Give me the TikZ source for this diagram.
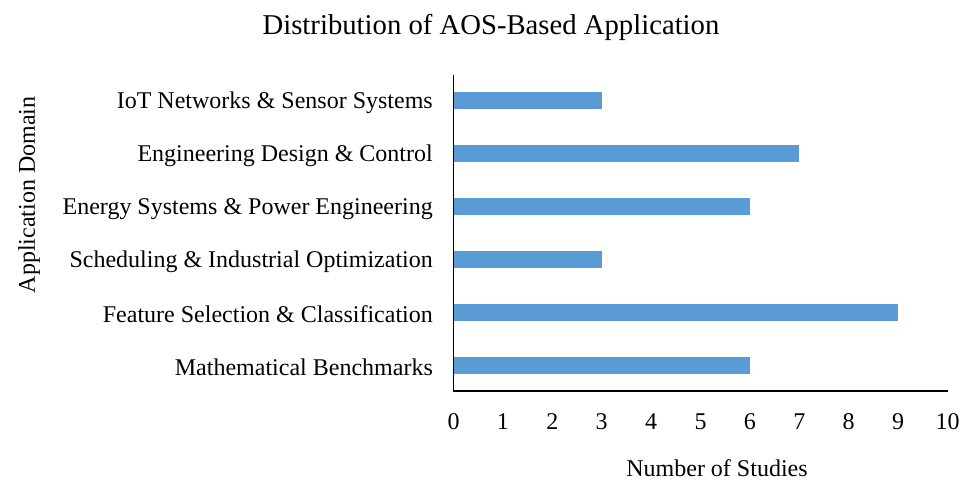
\documentclass[tikz,border=0pt]{standalone}
\usepackage{fontspec}
\setmainfont{Liberation Serif}
\definecolor{barblue}{HTML}{5B9BD5}
\begin{document}
\begin{tikzpicture}[x=1pt,y=-1pt,
  bar/.style={fill=barblue,draw=none},
  axisline/.style={line width=1.5pt,black},
  cat/.style={anchor=east,font=\fontsize{24}{26}\selectfont,inner sep=0pt},
  tick/.style={anchor=center,font=\fontsize{24}{26}\selectfont,inner sep=0pt},
  ttl/.style={anchor=center,font=\fontsize{28.7}{32}\selectfont,inner sep=0pt},
  axttl/.style={anchor=center,font=\fontsize{24}{26}\selectfont,inner sep=0pt}]
\useasboundingbox (0,0) rectangle (961,481);
\def\ux{49.4}
\def\xo{453.5}
% bars
\foreach \v/\yc/\nm in {3/101/b1,7/154/b2,6/207/b3,3/259.5/b4,9/312.5/b5,6/365/b6}{
  \fill[bar] (\xo,\yc-8.5) rectangle ({\xo+\v*\ux},\yc+8.5);
}
% axes
\coordinate (o) at (\xo,391);
\coordinate (top) at (\xo,75);
\coordinate (xend) at (948,391);
\draw[axisline] (top) -- (o) -- (xend);
% category labels
\node[cat] (c1) at (433,103) {IoT Networks \& Sensor Systems};
\node[cat] (c2) at (433,156) {Engineering Design \& Control};
\node[cat] (c3) at (433,209) {Energy Systems \& Power Engineering};
\node[cat] (c4) at (433,261.5) {Scheduling \& Industrial Optimization};
\node[cat] (c5) at (433,314.5) {Feature Selection \& Classification};
\node[cat] (c6) at (433,367) {Mathematical Benchmarks};
% tick labels
\foreach \i in {0,...,10}{
  \node[tick] (t\i) at ({\xo+\i*\ux},422) {\i};
}
\node[ttl] (title) at (491,27) {Distribution of AOS-Based Application};
\node[axttl] (xl) at (717,468) {Number of Studies};
\node[axttl,rotate=90] (yl) at (29,195) {Application Domain};
\end{tikzpicture}
\end{document}
